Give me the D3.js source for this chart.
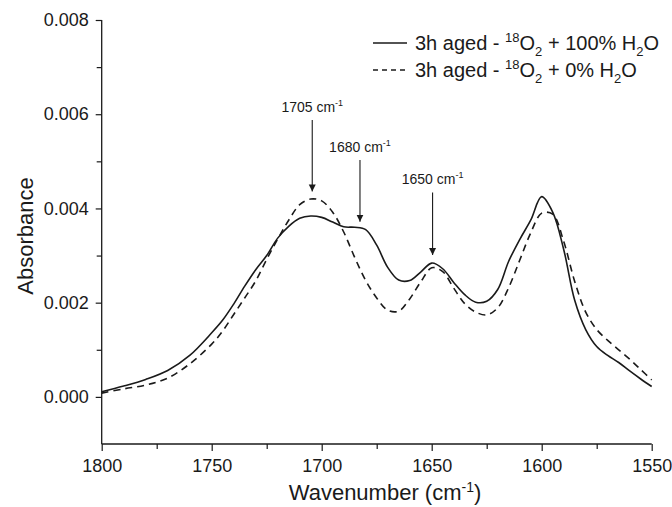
<!DOCTYPE html>
<html>
<head>
<meta charset="utf-8">
<script src="https://cdn.jsdelivr.net/npm/d3@7"></script>
<style>
  body { margin: 0; background: #fff; }
  svg { font-family: Arial, "Liberation Sans", sans-serif; }
</style>
</head>
<body>
<div id="chart"></div>
<script>
// wavenumber grid (cm-1) shared by both spectra
const wavenumbers = [1800, 1790, 1780, 1770, 1760, 1750, 1745, 1740, 1735, 1730, 1725, 1720, 1715, 1710,
  1705, 1700, 1695, 1690, 1685, 1680, 1675, 1670, 1665, 1660, 1655, 1650, 1645, 1640, 1635, 1630,
  1625, 1620, 1615, 1610, 1605, 1600, 1595, 1590, 1585, 1580, 1575, 1570, 1565, 1560, 1555, 1550];

// 3h aged - 18O2 + 100% H2O (solid)
const wetValues = [0.00011, 0.00023, 0.00037, 0.00056, 0.00088, 0.00136, 0.00163, 0.00197, 0.00235, 0.00270,
  0.00300, 0.00337, 0.00362, 0.00379, 0.00384, 0.00381, 0.00371, 0.00361, 0.00360, 0.00355, 0.00322,
  0.00275, 0.00248, 0.00247, 0.00265, 0.00284, 0.00272, 0.00243, 0.00217, 0.00201, 0.00203, 0.00228,
  0.00288, 0.00334, 0.00375, 0.00425, 0.00392, 0.00313, 0.00205, 0.00143, 0.00107, 0.00088, 0.00073,
  0.00055, 0.00038, 0.00022];

// 3h aged - 18O2 + 0% H2O (dashed)
const dryValues = [0.00008, 0.00017, 0.00025, 0.00040, 0.00070, 0.00112, 0.00140, 0.00175, 0.00210, 0.00246,
  0.00292, 0.00335, 0.00375, 0.00408, 0.00420, 0.00416, 0.00392, 0.00350, 0.00296, 0.00247, 0.00210,
  0.00184, 0.00182, 0.00208, 0.00244, 0.00274, 0.00266, 0.00231, 0.00198, 0.00180, 0.00174, 0.00189,
  0.00232, 0.00290, 0.00348, 0.00390, 0.00388, 0.00330, 0.00245, 0.00180, 0.00143, 0.00120, 0.00100,
  0.00080, 0.00058, 0.00036];

const xTicks = [1800, 1750, 1700, 1650, 1600, 1550];
const xMinorTicks = [1775, 1725, 1675, 1625, 1575];
const yTicks = [0.000, 0.002, 0.004, 0.006, 0.008];
const yMinorTicks = [0.001, 0.003, 0.005, 0.007];

// peak markers: label, wavenumber pointed at, arrow tip / tail absorbance
const peakLabels = ['1705', '1680', '1650'];
const peakX = [1704.3, 1682.6, 1649.6];
const peakTip = [0.00436, 0.00372, 0.00301];
const peakTail = [0.00588, 0.00503, 0.00434];

const W = 672, H = 507;

const svg = d3.select('#chart')
  .append('svg')
  .attr('width', W)
  .attr('height', H);

const x = d3.scaleLinear().domain([1800, 1550]).range([101.7, 651.7]);
const y = d3.scaleLinear().domain([-0.001, 0.008]).range([444, 20]);

const ink = '#1a1a1a';

// axes
const xAxis = svg.append('g')
  .attr('transform', `translate(0,${y(-0.001)})`)
  .call(d3.axisBottom(x).tickValues(xTicks).tickSize(7).tickPadding(8).tickFormat(d3.format('d')));
svg.append('g')
  .attr('transform', `translate(0,${y(-0.001)})`)
  .call(d3.axisBottom(x).tickValues(xMinorTicks).tickSize(5).tickFormat(''))
  .select('.domain').remove();

const yAxis = svg.append('g')
  .attr('transform', `translate(${x(1800)},0)`)
  .call(d3.axisLeft(y).tickValues(yTicks).tickSize(6).tickPadding(7).tickFormat(d3.format('.3f')));
svg.append('g')
  .attr('transform', `translate(${x(1800)},0)`)
  .call(d3.axisLeft(y).tickValues(yMinorTicks).tickSize(5).tickFormat(''))
  .select('.domain').remove();

// plain axis lines, no end caps
yAxis.select('.domain').attr('d', `M0,${y(0.008)}V${y(-0.001)}`);
xAxis.select('.domain').attr('d', `M${x(1800)},0H${x(1550)}`);

svg.selectAll('.domain').attr('stroke', ink).attr('stroke-width', 1.3);
svg.selectAll('.tick line').attr('stroke', ink).attr('stroke-width', 1.2);
svg.selectAll('.tick text').attr('fill', ink).style('font-size', '18px');

// axis titles
svg.append('text')
  .attr('transform', `translate(33,236) rotate(-90)`)
  .attr('text-anchor', 'middle')
  .attr('fill', ink)
  .style('font-size', '22px')
  .text('Absorbance');

const xt = svg.append('text')
  .attr('x', 385)
  .attr('y', 500)
  .attr('text-anchor', 'middle')
  .attr('fill', ink)
  .style('font-size', '22px');
xt.append('tspan').text('Wavenumber (cm');
xt.append('tspan').attr('dy', -8).style('font-size', '14px').text('-1');
xt.append('tspan').attr('dy', 8).text(')');

// spectra
const line = d3.line()
  .x(d => x(d[0]))
  .y(d => y(d[1]))
  .curve(d3.curveCatmullRom.alpha(0.5));

svg.append('path')
  .datum(wavenumbers.map((w, i) => [w, dryValues[i]]))
  .attr('d', line)
  .attr('fill', 'none')
  .attr('stroke', ink)
  .attr('stroke-width', 1.6)
  .attr('stroke-dasharray', '7,5');

svg.append('path')
  .datum(wavenumbers.map((w, i) => [w, wetValues[i]]))
  .attr('d', line)
  .attr('fill', 'none')
  .attr('stroke', ink)
  .attr('stroke-width', 1.6);

// arrows
svg.append('defs').append('marker')
  .attr('id', 'arrow')
  .attr('viewBox', '0 0 10 10')
  .attr('refX', 10).attr('refY', 5)
  .attr('markerWidth', 7).attr('markerHeight', 8)
  .attr('markerUnits', 'userSpaceOnUse')
  .attr('orient', 'auto')
  .append('path')
  .attr('d', 'M0,0L10,5L0,10z')
  .attr('fill', ink);

peakLabels.forEach((lab, i) => {
  const px = x(peakX[i]);
  svg.append('line')
    .attr('x1', px).attr('x2', px)
    .attr('y1', y(peakTail[i])).attr('y2', y(peakTip[i]))
    .attr('stroke', ink)
    .attr('stroke-width', 1.1)
    .attr('marker-end', 'url(#arrow)');
  const t = svg.append('text')
    .attr('x', px)
    .attr('y', y(peakTail[i]) - 8)
    .attr('text-anchor', 'middle')
    .attr('fill', ink)
    .style('font-size', '14px');
  t.append('tspan').text(lab + ' cm');
  t.append('tspan').attr('dy', -6).style('font-size', '9px').text('-1');
});

// legend
const legendItems = [
  { dash: null, water: '100%' },
  { dash: '5,4', water: '0%' }
];
const lg = svg.append('g');
legendItems.forEach((d, i) => {
  const cy = 43 + i * 27;
  lg.append('line')
    .attr('x1', 373).attr('x2', 407)
    .attr('y1', cy).attr('y2', cy)
    .attr('stroke', ink)
    .attr('stroke-width', 1.6)
    .attr('stroke-dasharray', d.dash);
  const t = lg.append('text')
    .attr('x', 415)
    .attr('y', cy + 7)
    .attr('fill', ink)
    .style('font-size', '20px');
  t.append('tspan').text('3h aged - ');
  t.append('tspan').attr('dy', -8).style('font-size', '13px').text('18');
  t.append('tspan').attr('dy', 8).text('O');
  t.append('tspan').attr('dy', 6).style('font-size', '13px').text('2');
  t.append('tspan').attr('dy', -6).text(` + ${d.water} H`);
  t.append('tspan').attr('dy', 6).style('font-size', '13px').text('2');
  t.append('tspan').attr('dy', -6).text('O');
});
</script>
</body>
</html>
